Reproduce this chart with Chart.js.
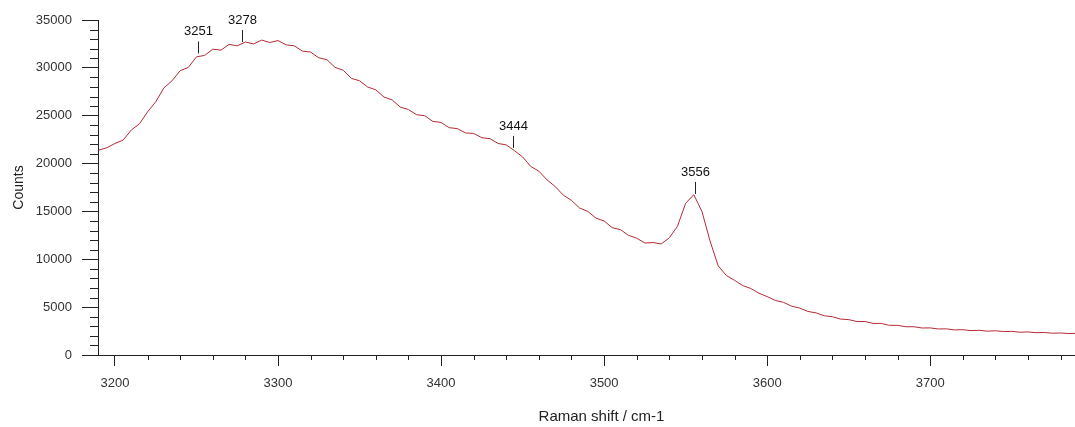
<!DOCTYPE html>
<html>
<head>
<meta charset="utf-8">
<script src="https://cdn.jsdelivr.net/npm/chart.js@4/dist/chart.umd.min.js"></script>
<style>
  html, body { margin: 0; padding: 0; background: #fff; }
  canvas { display: block; }
</style>
</head>
<body>
<canvas id="spectrum" width="1075" height="427"></canvas>
<script>
// Raman shift (cm-1) and counts
const ramanShift = [
  3190, 3195, 3200, 3205, 3210, 3215, 3220, 3225, 3230, 3235,
  3240, 3245, 3250, 3255, 3260, 3265, 3270, 3275, 3280, 3285,
  3290, 3295, 3300, 3305, 3310, 3315, 3320, 3325, 3330, 3335,
  3340, 3345, 3350, 3355, 3360, 3365, 3370, 3375, 3380, 3385,
  3390, 3395, 3400, 3405, 3410, 3415, 3420, 3425, 3430, 3435,
  3440, 3445, 3450, 3455, 3460, 3465, 3470, 3475, 3480, 3485,
  3490, 3495, 3500, 3505, 3510, 3515, 3520, 3525, 3530, 3535,
  3540, 3545, 3550, 3555, 3560, 3565, 3570, 3575, 3580, 3585,
  3590, 3595, 3600, 3605, 3610, 3615, 3620, 3625, 3630, 3635,
  3640, 3645, 3650, 3655, 3660, 3665, 3670, 3675, 3680, 3685,
  3690, 3695, 3700, 3705, 3710, 3715, 3720, 3725, 3730, 3735,
  3740, 3745, 3750, 3755, 3760, 3765, 3770, 3775, 3780, 3785,
  3789
];
const counts = [
  21400, 21650, 22100, 22450, 23500, 24150, 25400, 26450, 27900, 28650,
  29700, 30050, 31150, 31300, 31950, 31850, 32450, 32300, 32700, 32500,
  32900, 32650, 32850, 32400, 32300, 31750, 31650, 31050, 30850, 30050,
  29750, 28900, 28650, 28000, 27700, 26950, 26650, 25900, 25650, 25100,
  25000, 24400, 24300, 23750, 23650, 23200, 23150, 22700, 22600, 22100,
  21950, 21350, 20700, 19700, 19200, 18300, 17600, 16700, 16150, 15350,
  15000, 14300, 14000, 13300, 13100, 12500, 12200, 11700, 11750, 11600,
  12250, 13450, 15850, 16750, 15000, 11900, 9300, 8300, 7800, 7250,
  6950, 6450, 6100, 5700, 5500, 5100, 4900, 4550, 4400, 4100,
  4000, 3750, 3700, 3500, 3500, 3300, 3300, 3100, 3100, 2950,
  2950, 2820, 2830, 2720, 2730, 2620, 2640, 2550, 2580, 2490,
  2530, 2450, 2470, 2380, 2410, 2330, 2350, 2280, 2300, 2240,
  2260
];

// labelled peaks
const peakShift = [3251, 3278, 3444, 3556];
const peakCounts = [31400, 32600, 21530, 16720];

const xMin = 3189.6;
const xMax = 3788.8;
const yMax = 35000;

const axisColor = "#222";
const font = "Liberation Sans, Arial, sans-serif";

// minor ticks, peak markers and x title
const extrasPlugin = {
    id: "extras",
    afterDraw(chart) {
        const ctx = chart.ctx;
        const xs = chart.scales.x;
        const ys = chart.scales.y;
        ctx.save();
        ctx.strokeStyle = axisColor;
        ctx.lineWidth = 1;

        ctx.beginPath();
        ys.ticks.forEach(t => {
            if (t.value % 5000 !== 0) {
                const y = Math.round(ys.getPixelForValue(t.value)) + 0.5;
                ctx.moveTo(ys.right, y);
                ctx.lineTo(ys.right - 8, y);
            }
        });
        xs.ticks.forEach(t => {
            if (t.value % 100 !== 0) {
                const x = Math.round(xs.getPixelForValue(t.value)) + 0.5;
                ctx.moveTo(x, xs.top);
                ctx.lineTo(x, xs.top + 5);
            }
        });
        ctx.stroke();

        ctx.font = "13px " + font;
        ctx.fillStyle = "#111";
        ctx.textAlign = "center";
        ctx.textBaseline = "middle";
        peakShift.forEach((p, i) => {
            const x = Math.round(xs.getPixelForValue(p)) + 0.5;
            const y = ys.getPixelForValue(peakCounts[i]);
            ctx.beginPath();
            ctx.moveTo(x, y - 1);
            ctx.lineTo(x, y - 13);
            ctx.stroke();
            ctx.fillText(String(p), x, y - 23);
        });

        ctx.font = "15px " + font;
        ctx.fillStyle = "#222";
        ctx.fillText("Raman shift / cm-1", (xs.left + xs.right) / 2 + 15, 417);
        ctx.restore();
    }
};

new Chart(document.getElementById("spectrum"), {
    type: "line",
    data: {
        datasets: [{
            data: ramanShift.map((x, i) => ({ x: x, y: counts[i] })),
            borderColor: "#b52a35",
            borderWidth: 1,
            pointRadius: 0,
            tension: 0,
            fill: false
        }]
    },
    options: {
        responsive: false,
        animation: false,
        devicePixelRatio: 1,
        layout: { padding: { top: 20, right: 0, left: 0, bottom: 0 } },
        plugins: {
            legend: { display: false },
            tooltip: { enabled: false }
        },
        scales: {
            x: {
                type: "linear",
                min: xMin,
                max: xMax,
                afterFit: scale => { scale.height = 72; },
                border: { color: axisColor, width: 1 },
                grid: {
                    drawOnChartArea: false,
                    tickLength: 11,
                    tickColor: c => (c.tick && c.tick.value % 100 === 0) ? axisColor : "rgba(0,0,0,0)"
                },
                ticks: {
                    stepSize: 20,
                    includeBounds: false,
                    autoSkip: false,
                    maxRotation: 0,
                    padding: 10,
                    color: "#333",
                    font: { family: font, size: 13 },
                    callback: v => v % 100 === 0 ? String(v) : ""
                }
            },
            y: {
                min: 0,
                max: yMax,
                afterFit: scale => { scale.width = 98; },
                border: { color: axisColor, width: 1 },
                grid: {
                    drawOnChartArea: false,
                    tickLength: 16,
                    tickColor: c => (c.tick && c.tick.value % 5000 === 0) ? axisColor : "rgba(0,0,0,0)"
                },
                ticks: {
                    stepSize: 1000,
                    autoSkip: false,
                    padding: 10,
                    color: "#333",
                    font: { family: font, size: 13 },
                    callback: v => v % 5000 === 0 ? String(v) : ""
                },
                title: {
                    display: true,
                    text: "Counts",
                    color: "#222",
                    font: { family: font, size: 14 },
                    padding: { top: 11, bottom: 0 }
                }
            }
        }
    },
    plugins: [extrasPlugin]
});
</script>
</body>
</html>
